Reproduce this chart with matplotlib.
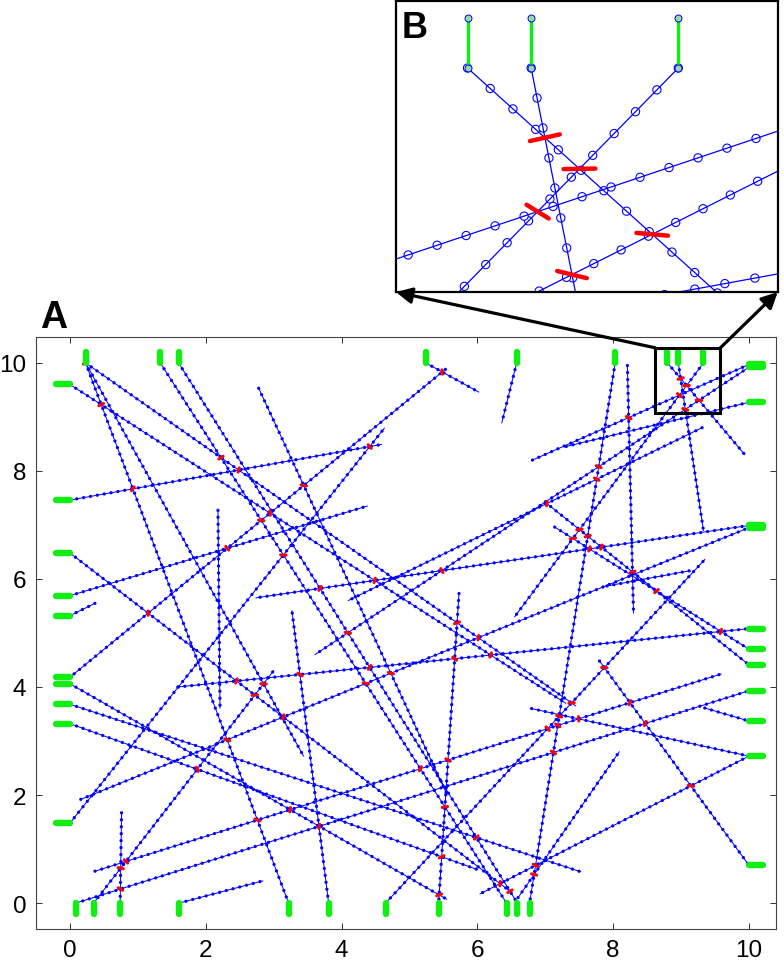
import numpy as np
import matplotlib
matplotlib.use("Agg")
import matplotlib.pyplot as plt
from matplotlib.patches import Rectangle, ConnectionPatch

plt.rcParams['font.family'] = ['Liberation Sans', 'DejaVu Sans']
plt.rcParams['lines.scale_dashes'] = False

# fracture traces, start and end points
frac_x0 = [0.23, 0.23, 0.23, 0.0, 1.33, 1.60, 2.78, 5.53, 5.24, 6.58,
           0.0, 0.0, 0.0, 2.18, 8.03, 8.21, 8.80, 8.96, 9.33, 4.65,
           10.0, 10.0, 10.0, 0.16, 1.59, 7.14, 7.00, 9.35, 6.80, 0.0,
           0.0, 0.0, 0.0, 0.76, 0.09, 0.37, 0.35, 5.73, 3.81, 1.61,
           0.0, 7.91, 7.80, 6.60, 10.0, 10.0, 9.31]
frac_y0 = [10.0, 10.0, 10.0, 9.60, 10.0, 10.0, 9.53, 9.88, 10.0, 10.0,
           7.46, 5.69, 5.32, 7.27, 10.0, 9.95, 10.0, 10.0, 10.0, 0.0,
           9.97, 9.92, 6.99, 1.92, 4.00, 6.96, 7.42, 3.61, 3.60, 4.06,
           3.68, 3.32, 1.48, 1.67, 0.0, 0.59, 0.0, 5.73, 0.0, 0.0,
           6.48, 5.87, 4.48, 0.10, 2.72, 9.27, 8.80]
frac_x1 = [7.45, 3.22, 3.44, 7.30, 6.43, 6.59, 5.55, 0.0, 6.02, 6.36,
           4.59, 4.38, 0.37, 2.21, 6.77, 8.30, 9.94, 9.33, 6.55, 9.35,
           6.81, 3.61, 2.74, 10.0, 10.0, 10.0, 10.0, 10.0, 10.0, 5.55,
           7.52, 6.00, 4.63, 0.74, 10.0, 9.59, 3.00, 5.43, 3.27, 2.84,
           6.50, 9.12, 10.0, 8.09, 6.04, 7.30, 4.10]
frac_y1 = [3.65, 0.0, 2.72, 3.70, 0.0, 0.0, 2.02, 4.18, 9.46, 8.89,
           8.49, 7.35, 5.55, 3.61, 0.0, 5.37, 8.30, 6.90, 5.30, 6.36,
           8.20, 4.60, 5.65, 6.95, 5.08, 4.70, 4.41, 3.37, 2.72, 0.07,
           0.58, 0.62, 8.79, 0.0, 3.93, 4.24, 4.30, 0.0, 5.41, 0.41,
           0.20, 6.15, 0.70, 2.80, 0.17, 8.45, 5.60]

# green boundary connections
stub_top = [0.23, 1.33, 1.60, 5.24, 6.58, 8.03, 8.80, 8.96, 9.33]
stub_bottom = [0.09, 0.35, 0.74, 1.61, 3.22, 3.81, 4.65, 5.43, 6.43, 6.59, 6.77]
stub_left = [9.60, 7.46, 6.48, 5.69, 5.32, 4.18, 4.06, 3.68, 3.32, 1.48]
stub_right = [9.97, 9.92, 9.27, 6.99, 6.95, 5.08, 4.70, 4.41, 3.93, 3.37, 2.72, 0.70]
stub_len = 0.21

# places where red links between traces were seen
link_x = [0.32, 0.47, 1.87, 2.08, 2.50, 0.93, 4.45, 5.50, 3.51, 2.92,
          2.39, 2.62, 2.92, 3.02, 3.79, 4.31, 5.36, 5.60, 5.67, 5.64,
          4.17, 4.52, 4.80, 5.67, 6.06, 6.20, 2.50, 2.88, 2.67, 3.61,
          4.14, 3.27, 2.85, 2.32, 1.77, 8.08, 7.94, 7.91, 7.73, 7.73,
          7.94, 8.22, 8.60, 8.71, 7.03, 7.24, 7.49, 9.41, 9.86, 9.55,
          7.87, 7.38, 7.49, 8.08, 8.36, 8.50, 7.24, 7.14, 7.00, 7.14,
          5.60, 5.57, 5.83, 5.12, 9.16, 5.57, 6.23, 6.69, 6.82, 6.34,
          6.51, 5.46, 5.43, 2.88, 3.02, 3.30, 3.75, 0.89, 0.68, 0.75,
          1.17, 8.94, 9.09, 8.96, 9.27, 9.26, 9.07]
link_y = [9.81, 9.32, 9.15, 8.65, 8.01, 7.71, 8.47, 9.81, 7.80, 7.17,
          6.64, 6.85, 6.08, 5.76, 5.65, 5.94, 6.11, 6.22, 5.44, 5.23,
          5.06, 4.40, 4.11, 4.56, 4.67, 4.82, 4.11, 4.11, 3.72, 3.98,
          4.04, 3.32, 2.87, 2.96, 2.27, 9.18, 8.15, 7.59, 6.75, 6.54,
          6.54, 6.25, 5.83, 5.73, 7.42, 6.89, 6.96, 6.85, 6.92, 5.04,
          4.39, 3.68, 3.54, 3.65, 3.72, 3.26, 3.44, 3.30, 3.19, 2.96,
          2.84, 2.70, 2.42, 2.43, 2.18, 1.64, 1.15, 0.62, 0.65, 0.34,
          0.20, 0.55, 0.20, 1.61, 1.51, 1.36, 1.50, 0.83, 0.69, 0.30,
          5.34, 9.86, 9.59, 9.31, 9.30, 9.22, 9.10]

ticks = [0, 2, 4, 6, 8, 10]
zoom_x = (8.62, 9.58)
zoom_y = (9.067, 10.279)

BLUE = '#0000ff'
GREEN = '#11ee11'
RED = '#ff0000'

segs = np.column_stack([frac_x0, frac_y0, frac_x1, frac_y1]).astype(float)


def crossing(a, b):
    p, r = a[:2], a[2:] - a[:2]
    q, s = b[:2], b[2:] - b[:2]
    den = r[0] * s[1] - r[1] * s[0]
    if abs(den) < 1e-9:
        return None
    t = ((q[0] - p[0]) * s[1] - (q[1] - p[1]) * s[0]) / den
    u = ((q[0] - p[0]) * r[1] - (q[1] - p[1]) * r[0]) / den
    if 0 <= t <= 1 and 0 <= u <= 1:
        return p + t * r, r / np.hypot(*r), s / np.hypot(*s)
    return None


crossings = []
for i in range(len(segs)):
    for j in range(i + 1, len(segs)):
        c = crossing(segs[i], segs[j])
        if c is not None:
            crossings.append(c)
cpts = np.array([c[0] for c in crossings])

# snap each seen red link to the nearest crossing of the traces
links = []
used = set()
for lx, ly in zip(link_x, link_y):
    d = np.hypot(cpts[:, 0] - lx, cpts[:, 1] - ly)
    k = int(np.argmin(d))
    if d[k] < 0.45 and k not in used:
        used.add(k)
        p, u, v = crossings[k]
        if np.dot(u, v) < 0:
            v = -v
        w = u - v
        w = w / np.hypot(*w)
        links.append((p - 0.04 * w, p + 0.04 * w))


def stubs():
    out = []
    for x in stub_top:
        out.append(([x, x], [10.0, 10.0 + stub_len]))
    for x in stub_bottom:
        out.append(([x, x], [0.0, -stub_len]))
    for y in stub_left:
        out.append(([0.0, -stub_len], [y, y]))
    for y in stub_right:
        out.append(([10.0, 10.0 + stub_len], [y, y]))
    return out


fig = plt.figure(figsize=(7.84, 9.62), dpi=100)

# main panel
ax = fig.add_axes([0.0459, 0.0333, 0.944, 0.6154])
for x0, y0, x1, y1 in segs:
    ax.plot([x0, x1], [y0, y1], color=BLUE, lw=0.7, zorder=2)
    ax.plot([x0, x1], [y0, y1], color=BLUE, lw=2.4, ls=(0, (0.01, 5.0)),
            dash_capstyle='round', zorder=2)
for a, b in links:
    ax.plot([a[0], b[0]], [a[1], b[1]], color=RED, lw=2.2,
            solid_capstyle='round', zorder=3)
for xs, ys in stubs():
    ax.plot(xs, ys, color=GREEN, lw=4.6, solid_capstyle='round', zorder=4)

ax.add_patch(Rectangle((zoom_x[0], zoom_y[0]), zoom_x[1] - zoom_x[0],
                       zoom_y[1] - zoom_y[0], fill=False, ec='black', lw=2.2, zorder=6))
ax.set_xlim(-0.5, 10.4)
ax.set_ylim(-0.48, 10.48)
ax.set_xticks(ticks)
ax.set_yticks(ticks)
ax.tick_params(direction='in', length=4, width=0.7, top=True, right=True,
               labelsize=17.5, pad=7, colors='#333333', labelcolor='black')
for sp in ax.spines.values():
    sp.set_color('#444444')
    sp.set_linewidth(0.8)

# zoomed panel
axi = fig.add_axes([0.505, 0.6954, 0.487, 0.3025])
for x0, y0, x1, y1 in segs:
    axi.plot([x0, x1], [y0, y1], color=BLUE, lw=6.8, ls=(0, (0.01, 22.0)),
             dash_capstyle='round', zorder=2)
    axi.plot([x0, x1], [y0, y1], color='white', lw=5.2, ls=(0, (0.01, 22.0)),
             dash_capstyle='round', zorder=2)
    axi.plot([x0, x1], [y0, y1], color=BLUE, lw=0.9, zorder=2)
for a, b in links:
    axi.plot([a[0], b[0]], [a[1], b[1]], color=RED, lw=3.2,
             solid_capstyle='round', zorder=3)
for xs, ys in stubs():
    axi.plot(xs, ys, color=GREEN, lw=2.4, zorder=4, marker='o', ms=5,
             mfc='#99dd99', mec=BLUE, mew=0.7)
axi.set_xlim(*zoom_x)
axi.set_ylim(*zoom_y)
axi.set_xticks([])
axi.set_yticks([])
for sp in axi.spines.values():
    sp.set_linewidth(1.6)

for xa, xb in [((zoom_x[0], zoom_y[1]), (0, 0)), ((zoom_x[1], zoom_y[1]), (1, 0))]:
    con = ConnectionPatch(xyA=xa, coordsA=ax.transData, xyB=xb, coordsB=axi.transAxes,
                          arrowstyle='-|>', mutation_scale=24, lw=2.3, color='black')
    fig.add_artist(con)

fig.text(0.051, 0.659, 'A', fontsize=27, fontweight='bold', ha='left', va='baseline')
fig.text(0.512, 0.9605, 'B', fontsize=26, fontweight='bold', ha='left', va='baseline')

fig.savefig('out.png', dpi=100)
